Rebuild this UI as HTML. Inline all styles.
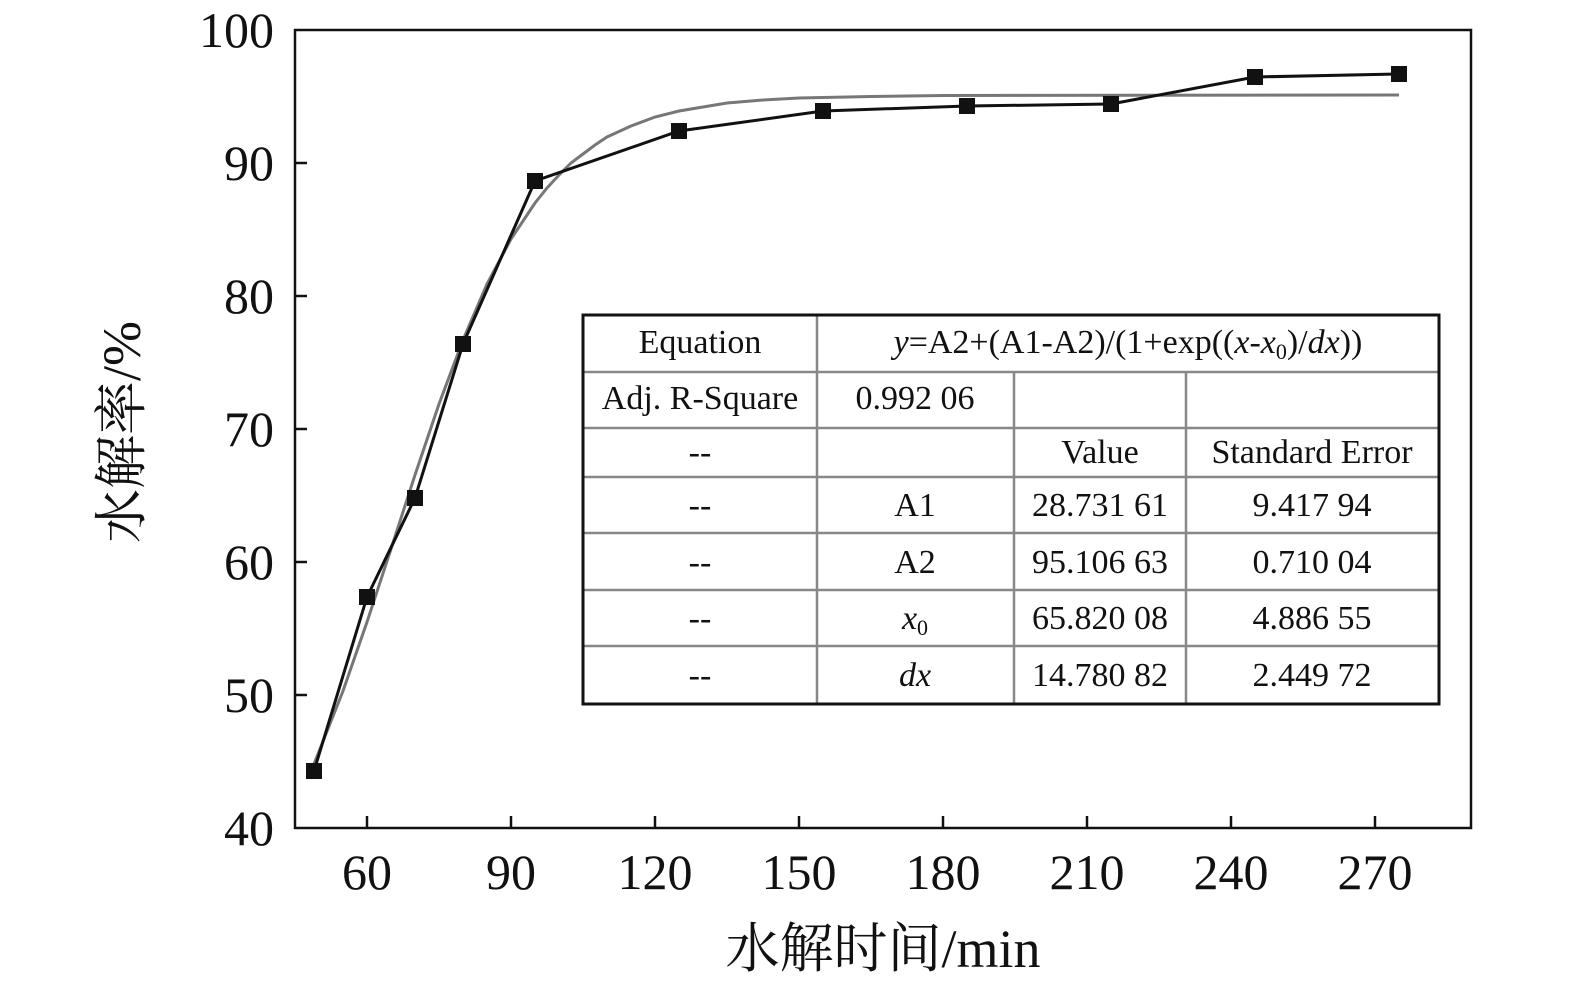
<!DOCTYPE html>
<html><head><meta charset="utf-8"><style>
html,body{margin:0;padding:0;background:#fff;overflow:hidden;width:1575px;height:988px;}
svg{display:block;}
text{font-family:"Liberation Serif","Noto Serif CJK SC",serif;fill:#111;}
</style></head><body>
<svg width="1575" height="988" viewBox="0 0 1575 988" xmlns="http://www.w3.org/2000/svg">
<rect x="295" y="30" width="1176" height="798" fill="none" stroke="#111" stroke-width="2.5"/>
<g stroke="#111" stroke-width="2.5">
<line x1="367" y1="828" x2="367" y2="816"/><line x1="511" y1="828" x2="511" y2="816"/>
<line x1="655" y1="828" x2="655" y2="816"/><line x1="799" y1="828" x2="799" y2="816"/>
<line x1="943" y1="828" x2="943" y2="816"/><line x1="1087" y1="828" x2="1087" y2="816"/>
<line x1="1231" y1="828" x2="1231" y2="816"/><line x1="1375" y1="828" x2="1375" y2="816"/>
<line x1="295" y1="163" x2="307" y2="163"/><line x1="295" y1="296" x2="307" y2="296"/>
<line x1="295" y1="429" x2="307" y2="429"/><line x1="295" y1="562" x2="307" y2="562"/>
<line x1="295" y1="695" x2="307" y2="695"/>
</g>
<g font-size="50" text-anchor="middle">
<text x="367" y="889">60</text><text x="511" y="889">90</text><text x="655" y="889">120</text>
<text x="799" y="889">150</text><text x="943" y="889">180</text><text x="1087" y="889">210</text>
<text x="1231" y="889">240</text><text x="1375" y="889">270</text>
</g>
<g font-size="50" text-anchor="end">
<text x="274" y="47">100</text><text x="274" y="180">90</text><text x="274" y="313">80</text>
<text x="274" y="446">70</text><text x="274" y="579">60</text><text x="274" y="712">50</text>
<text x="274" y="845">40</text>
</g>
<text x="883" y="967" font-size="54" text-anchor="middle">水解时间/min</text>
<text transform="translate(140,432) rotate(-90)" font-size="54" text-anchor="middle">水解率/%</text>
<polyline fill="none" stroke="#777" stroke-width="3" points="314,764 343,691 367,622 391,549 415,475 439,404 463,340 487,284 511,239 535,203 547,188 559,175 571,163 583,154 595,145 607,137 631,126 655,117 679,111 703,107 727,103 763,100 799,98 871,96.5 943,95.5 1399,95"/>
<polyline fill="none" stroke="#111" stroke-width="3" points="314,771 367,597 415,498 463,344 535,181 679,131 823,111 967,106 1111,104 1255,77 1399,74"/>
<g fill="#111">
<rect x="306" y="763" width="16" height="16"/><rect x="359" y="589" width="16" height="16"/>
<rect x="407" y="490" width="16" height="16"/><rect x="455" y="336" width="16" height="16"/>
<rect x="527" y="173" width="16" height="16"/><rect x="671" y="123" width="16" height="16"/>
<rect x="815" y="103" width="16" height="16"/><rect x="959" y="98" width="16" height="16"/>
<rect x="1103" y="96" width="16" height="16"/><rect x="1247" y="69" width="16" height="16"/>
<rect x="1391" y="66" width="16" height="16"/>
</g>
<rect x="583" y="315" width="856" height="389" fill="#fff"/>
<g stroke="#888" stroke-width="2.5">
<line x1="583" y1="372" x2="1439" y2="372"/><line x1="583" y1="428" x2="1439" y2="428"/>
<line x1="583" y1="477" x2="1439" y2="477"/><line x1="583" y1="533" x2="1439" y2="533"/>
<line x1="583" y1="590" x2="1439" y2="590"/><line x1="583" y1="646" x2="1439" y2="646"/>
<line x1="817" y1="315" x2="817" y2="704"/><line x1="1014" y1="372" x2="1014" y2="704"/>
<line x1="1186" y1="372" x2="1186" y2="704"/>
</g>
<rect x="583" y="315" width="856" height="389" fill="none" stroke="#111" stroke-width="3"/>
<g font-size="34" text-anchor="middle">
<text x="700" y="353">Equation</text>
<text x="1128" y="353"><tspan font-style="italic">y</tspan>=A2+(A1-A2)/(1+exp((<tspan font-style="italic">x</tspan>-<tspan font-style="italic">x</tspan><tspan font-size="22" dy="6">0</tspan><tspan dy="-6">)/</tspan><tspan font-style="italic">dx</tspan>))</text>
<text x="700" y="409">Adj. R-Square</text><text x="915" y="409">0.992 06</text>
<text x="700" y="463">--</text><text x="1100" y="463">Value</text><text x="1312" y="463">Standard Error</text>
<text x="700" y="516">--</text><text x="915" y="516">A1</text><text x="1100" y="516">28.731 61</text><text x="1312" y="516">9.417 94</text>
<text x="700" y="573">--</text><text x="915" y="573">A2</text><text x="1100" y="573">95.106 63</text><text x="1312" y="573">0.710 04</text>
<text x="700" y="629">--</text><text x="915" y="629"><tspan font-style="italic">x</tspan><tspan font-size="22" dy="6">0</tspan></text><text x="1100" y="629">65.820 08</text><text x="1312" y="629">4.886 55</text>
<text x="700" y="686">--</text><text x="915" y="686" font-style="italic">dx</text><text x="1100" y="686">14.780 82</text><text x="1312" y="686">2.449 72</text>
</g>
</svg>
</body></html>
